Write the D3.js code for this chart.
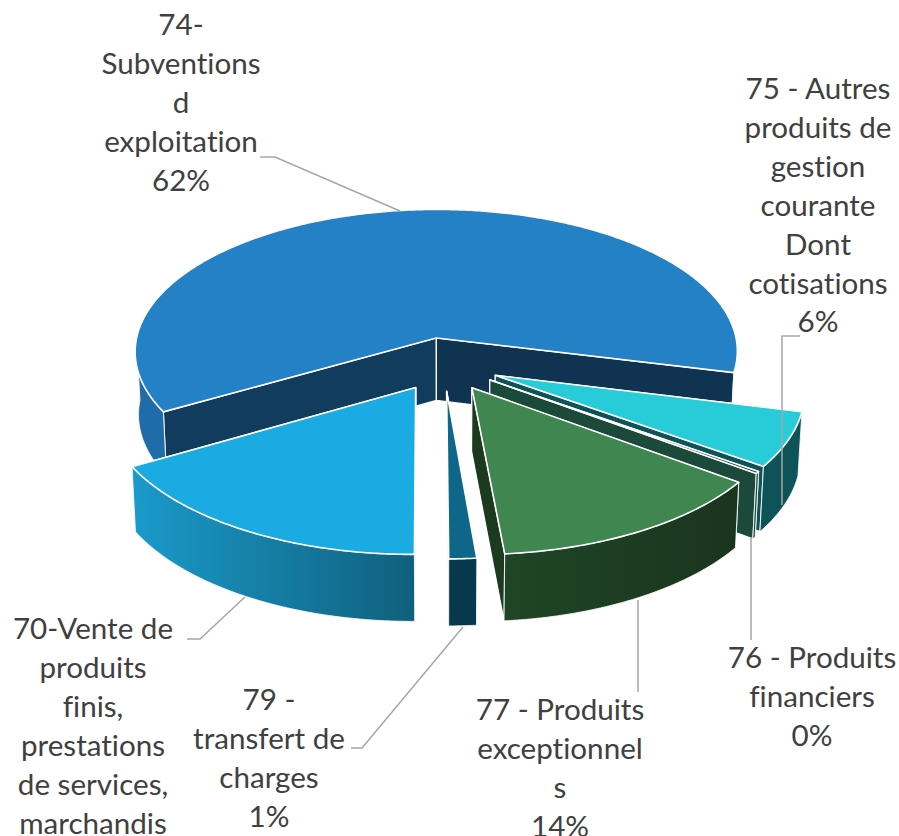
<!DOCTYPE html>
<html>
<head>
<meta charset="utf-8">
<script src="https://cdn.jsdelivr.net/npm/d3@7/dist/d3.min.js"></script>
<style>
html,body{margin:0;padding:0;background:#fff;overflow:hidden}
svg{display:block}
text{font-family:Lato,"Open Sans",sans-serif;font-size:29.6px;fill:#404040;text-anchor:middle;font-variant-ligatures:none;font-feature-settings:"liga" 0}
</style>
</head>
<body>
<svg id="chart" width="899" height="836"></svg>
<script>
// ---- data ----
const categories = ["74","75","76","77","79","70"];
const values = [62.2, 6, 0.22, 13.53, 1.3, 16.75];
const nameLines = [
  ["74-","Subventions","d","exploitation"],
  ["75 - Autres","produits de","gestion","courante","Dont","cotisations"],
  ["76 - Produits","financiers"],
  ["77 - Produits","exceptionnel","s"],
  ["79 -","transfert de","charges"],
  ["70-Vente de","produits","finis,","prestations","de services,","marchandis"]
];
const topColors  = ["#2581C5","#27CCD8","#1C4A3A","#408651","#0E6788","#1AABE3"];
const wallFrom   = ["#1F6CA8","#0E5358","#1C4A3A","#1F4526","#07384B","#1A9ACB"];
const wallTo     = ["#1F6CA8","#0E5358","#1C4A3A","#1A351E","#07384B","#10607C"];
const startFaces = ["#123C5E","#0E5358","#1C4A3A","#1B3A1E","#07384B","#10607C"];
const endFaces   = ["#0F3350","#0E5358","#1C4A3A","#1B3A1E","#07384B","#10607C"];

// ---- layout ----
const cx = 444, cy = 364, R = 305, explode = 56, tilt = 0.478, persp = 3147, depth = 63, shrink = 0.011;
const start = -120 * Math.PI / 180;
const labelCenters = [[181,35],[818,99],[812,668],[560,720],[269,710],[93,639]];
const lineHeight = 38.9;
const leaders = [
  [[260,157],[275,157],[400,211]],
  [[800,336],[782,336],[782,505]],
  [[751,537],[751,640]],
  [[638,600],[638,692]],
  [[463,627],[362,748],[351,748]],
  [[245,597],[200,639],[187,639]]
];

// ---- geometry ----
const svg = d3.select("#chart");
const defs = svg.append("defs");
const arcs = d3.pie().sort(null).startAngle(start).endAngle(start + 2*Math.PI)(values);

const sX = d3.scaleLinear().domain([0,1]).range([0,R]);
function project(u, v, z) {
  const s = persp / (persp - v);
  return [cx + u*s*(1 - z*shrink), cy + v*tilt*s + z*depth*(1 + (s-1)*0.5)];
}
function ox(a){ return explode*Math.sin(a); }
function oy(a){ return -explode*Math.cos(a); }
const line = d3.line();

function rim(a0, a1, ma, z) {
  const n = Math.max(2, Math.ceil((a1-a0)/0.01));
  return d3.range(n+1).map(i => {
    const a = a0 + (a1-a0)*i/n;
    return project(ox(ma)+sX(Math.sin(a)), oy(ma)-sX(Math.cos(a)), z);
  });
}
function apex(ma, z){ return project(ox(ma), oy(ma), z); }

const order = [0,1,2,3,5,4];
order.forEach(idx => {
  const d = arcs[idx], a0 = d.startAngle, a1 = d.endAngle, ma = (a0+a1)/2;
  const g = svg.append("g");
  const paint = (pts, fill, sw) => g.append("path")
      .attr("d", line(pts)+"Z").attr("fill",fill)
      .attr("stroke","#fff").attr("stroke-width",sw).attr("stroke-linejoin","round");

  // radial faces
  const p0 = rim(a0,a0,ma,0)[0], p1 = rim(a1,a1,ma,0)[0];
  const b0 = rim(a0,a0,ma,1)[0], b1 = rim(a1,a1,ma,1)[0];
  paint([apex(ma,0),p0,b0,apex(ma,1)], startFaces[idx], 1.2);
  paint([apex(ma,0),p1,b1,apex(ma,1)], endFaces[idx], 1.2);

  // outer wall: only the part turned towards the viewer
  const ranges = [[Math.PI/2, 3*Math.PI/2],[-3*Math.PI/2,-Math.PI/2]];
  ranges.forEach((r,ri) => {
    const w0 = Math.max(a0,r[0]), w1 = Math.min(a1,r[1]);
    if (w1 <= w0) return;
    const upper = rim(w0,w1,ma,0), lower = rim(w0,w1,ma,1).reverse();
    const xs = d3.extent(upper.concat(lower), p => p[0]);
    const id = "wall"+idx+"_"+ri;
    const gr = defs.append("linearGradient").attr("id",id)
      .attr("gradientUnits","userSpaceOnUse")
      .attr("x1",xs[0]).attr("x2",xs[1]).attr("y1",0).attr("y2",0);
    gr.append("stop").attr("offset",0).attr("stop-color",wallFrom[idx]);
    gr.append("stop").attr("offset",1).attr("stop-color",wallTo[idx]);
    paint(upper.concat(lower), "url(#"+id+")", 0.8);
  });

  // top face
  paint([apex(ma,0)].concat(rim(a0,a1,ma,0)), topColors[idx], 1.6);
});

// ---- leader lines ----
svg.append("g").selectAll("path").data(leaders).join("path")
  .attr("d", d => line(d)).attr("fill","none")
  .attr("stroke","#A6A6A6").attr("stroke-width",1.5);

// ---- labels ----
const pct = d3.format(".0%");
const total = d3.sum(values);
const labels = svg.append("g").selectAll("text").data(categories).join("text")
  .attr("transform",(d,i)=>`translate(${labelCenters[i][0]},${labelCenters[i][1]})`);
labels.each(function(d,i){
  const lines = nameLines[i].slice();
  if (categories[i] !== "70") lines.push(pct(values[i]/total));
  d3.select(this).selectAll("tspan").data(lines).join("tspan")
    .attr("x",0).attr("y",(l,j)=>j*lineHeight).text(l=>l);
});
</script>
</body>
</html>
